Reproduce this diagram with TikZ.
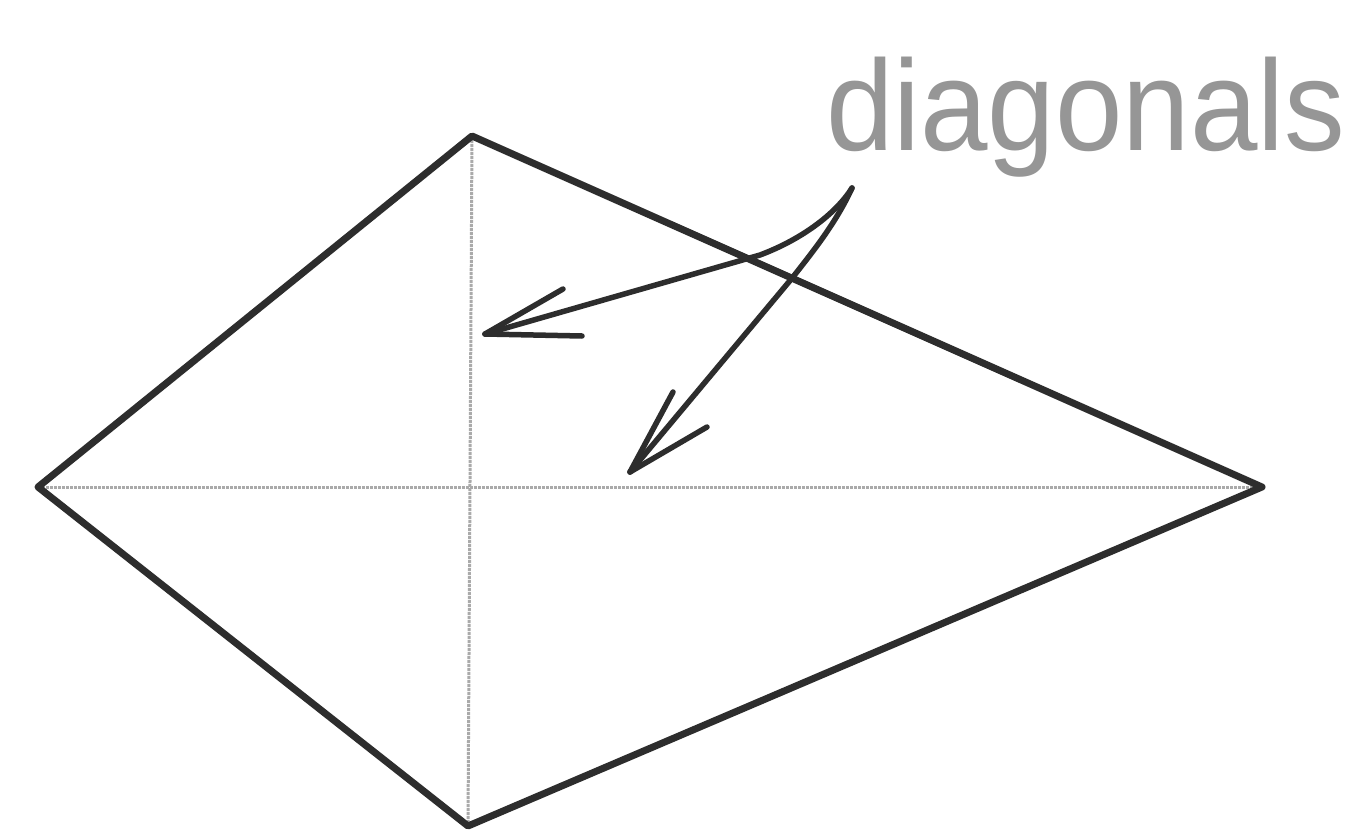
\documentclass[tikz,border=0pt]{standalone}
\usepackage{fontspec}
\setmainfont{Liberation Sans}
\definecolor{inkc}{RGB}{45,45,45}
\definecolor{diagc}{RGB}{170,170,170}
\definecolor{textc}{RGB}{150,150,150}
\tikzset{
  kiteline/.style={draw=inkc, line width=7pt, line join=round, line cap=round},
  diagline/.style={draw=diagc, line width=3pt, densely dotted},
  pointer/.style={draw=inkc, line width=5.5pt, line join=round, line cap=round},
  labeltext/.style={text=textc, inner sep=0pt, font=\fontsize{129}{135}\selectfont}
}
\begin{document}
\begin{tikzpicture}[x=1pt,y=-1pt]
\useasboundingbox (0,0) rectangle (1349,832);
\fill[white] (0,0) rectangle (1349,832);
% vertices
\coordinate (T) at (472,136);
\coordinate (L) at (38,487);
\coordinate (R) at (1262,487);
\coordinate (B) at (468,826);
% diagonals
\draw[diagline] (L) -- (R);
\draw[diagline] (T) -- (B);
% kite
\draw[kiteline] (T) -- (R) -- (B) -- (L) -- cycle;
% label
\node[labeltext, anchor=base west, xscale=0.94] (lab) at (826,150) {diagonals};
% pointers
\coordinate (O) at (852,188);
\coordinate (A1) at (485,334);
\coordinate (A2) at (630,472);
\draw[pointer] (O) .. controls (835,215) and (800,240) .. (760,255) -- (A1);
\draw[pointer] (A1) -- (563,289);
\draw[pointer] (A1) -- (582,336);
\draw[pointer] (O) .. controls (835,225) and (810,255) .. (793,277) -- (A2);
\draw[pointer] (A2) -- (673,392);
\draw[pointer] (A2) -- (707,427);
\end{tikzpicture}
\end{document}
